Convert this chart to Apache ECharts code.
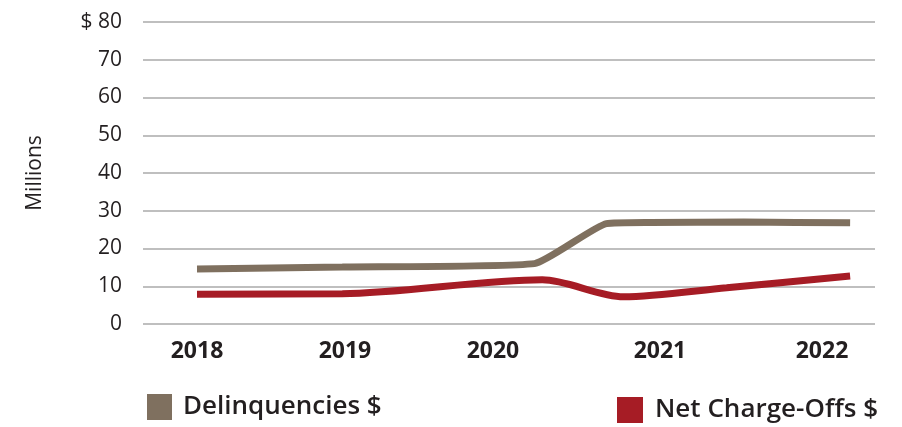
<!DOCTYPE html>
<html><head><meta charset="utf-8">
<script src="https://cdn.jsdelivr.net/npm/echarts@6/dist/echarts.min.js"></script>
<style>html,body{margin:0;padding:0;background:#fff}#c{width:902px;height:427px}</style>
</head><body><div id="c"></div>
<script>
// Year labels on the x axis
const yearLabels = ["2018", "2019", "2020", "2021", "2022"];
// Where each year label sits on the (fractional year) x scale, as in the reference
const yearLabelAt = [2018, 2018.947, 2019.894, 2020.963, 2022];
// Delinquencies $ (millions): x in fractional years, y values
const delinqX = [2018.0, 2018.93, 2020.16, 2020.62, 2020.90, 2021.5, 2022.18];
const delinqY = [14.6, 15.1, 16.0, 26.6, 26.9, 27.0, 26.8];
// Net Charge-Offs $ (millions)
const nco_X = [2018.0, 2018.93, 2020.21, 2020.73, 2021.39, 2022.18];
const nco_Y = [7.9, 8.0, 11.7, 7.2, 9.6, 12.7];
const yTicks = [0, 10, 20, 30, 40, 50, 60, 70, 80];

const chart = echarts.init(document.getElementById('c'));
const font = "'Open Sans', 'Noto Sans', sans-serif";
chart.setOption({
  animation: false,
  grid: { left: 143, right: 27, top: 22, bottom: 103 },
  xAxis: {
    type: 'value', min: 2017.6544, max: 2022.3392,
    splitLine: { show: false },
    axisLine: { show: false }, axisTick: { show: false },
    axisLabel: {
      customValues: yearLabelAt,
      formatter: function (v) { const i = yearLabelAt.indexOf(v); return i >= 0 ? yearLabels[i] : ''; },
      fontFamily: font, fontWeight: 'bold', fontSize: 23, color: '#231f20', margin: 16
    }
  },
  yAxis: {
    type: 'value', min: 0, max: 80, interval: 10,
    name: 'Millions', nameLocation: 'middle', nameGap: 97, nameRotate: 90,
    nameTextStyle: { fontFamily: font, fontSize: 21, color: '#231f20' },
    axisLine: { show: false }, axisTick: { show: false },
    splitLine: { lineStyle: { color: '#bfbfbf', width: 2 } },
    axisLabel: {
      formatter: function (v) { return v === yTicks[yTicks.length - 1] ? '$ ' + v : String(v); },
      fontFamily: font, fontSize: 21, color: '#231f20', margin: 21
    }
  },
  legend: [
    { data: ['Delinquencies $'], left: 147, top: 394, padding: 0, itemWidth: 25, itemHeight: 26, itemGap: 10, icon: 'rect',
      textStyle: { fontFamily: font, fontWeight: 600, fontSize: 26, color: '#231f20', padding: [0, 0, 0, 6] } },
    { data: ['Net Charge-Offs $'], left: 617, top: 397, padding: 0, itemWidth: 26, itemHeight: 26, itemGap: 10, icon: 'rect',
      textStyle: { fontFamily: font, fontWeight: 600, fontSize: 26, color: '#231f20', padding: [0, 0, 0, 7] } }
  ],
  series: [
    { name: 'Delinquencies $', type: 'line', smooth: 0.15, symbol: 'none',
      color: '#7f705f', lineStyle: { width: 7, color: '#7f705f' },
      data: delinqX.map((x, i) => [x, delinqY[i]]) },
    { name: 'Net Charge-Offs $', type: 'line', smooth: 0.3, symbol: 'none',
      color: '#a61c25', lineStyle: { width: 7, color: '#a61c25' },
      data: nco_X.map((x, i) => [x, nco_Y[i]]) }
  ]
});
</script></body></html>
